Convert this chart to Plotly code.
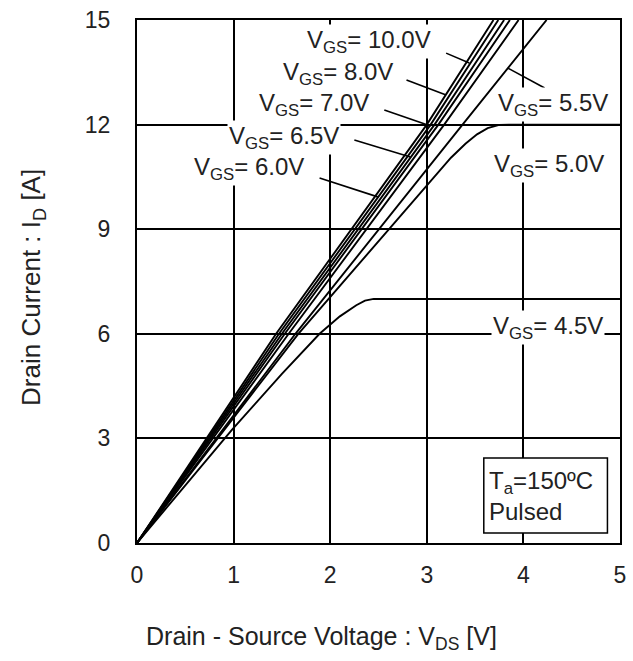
import plotly.graph_objects as go

# Output characteristics, Ta = 150 °C, pulsed
vgs_labels = ["10.0", "8.0", "7.0", "6.5", "6.0", "5.5", "5.0", "4.5"]

vds_10_0 = [0, 1.44, 3.00, 3.69]
id_10_0 = [0, 6, 12, 15]
vds_8_0 = [0, 1.47, 3.04, 3.74]
id_8_0 = [0, 6, 12, 15]
vds_7_0 = [0, 1.50, 3.08, 3.80]
id_7_0 = [0, 6, 12, 15]
vds_6_5 = [0, 1.53, 3.12, 3.86]
id_6_5 = [0, 6, 12, 15]
vds_6_0 = [0, 1.57, 3.18, 3.95]
id_6_0 = [0, 6, 12, 15]
vds_5_5 = [0, 1.64, 3.37, 4.24]
id_5_5 = [0, 6, 12, 15]
vds_5_0 = [0, 1.67, 2.69, 3.25, 3.40, 3.52, 3.63, 3.75, 3.85, 5.0]
id_5_0 = [0, 6.0, 9.26, 11.05, 11.45, 11.72, 11.9, 11.99, 12.0, 12.0]
vds_4_5 = [0, 0.98, 1.50, 1.89, 2.10, 2.27, 2.36, 2.45, 5.0]
id_4_5 = [0, 3.24, 4.85, 6.0, 6.5, 6.82, 6.95, 7.0, 7.0]

curves_vds = [vds_10_0, vds_8_0, vds_7_0, vds_6_5, vds_6_0, vds_5_5, vds_5_0, vds_4_5]
curves_id = [id_10_0, id_8_0, id_7_0, id_6_5, id_6_0, id_5_5, id_5_0, id_4_5]

# label centres (VDS, ID)
label_x = [2.40, 2.08, 1.83, 1.52, 1.16, 4.31, 4.27, 4.25]
label_y = [14.37, 13.48, 12.59, 11.64, 10.73, 12.59, 10.84, 6.17]

# leader lines: start (x0, y0) -> end (x1, y1); None where a label has no leader
leader_x0 = [3.20, 2.79, 2.56, 2.25, 1.89, 3.84, None, None]
leader_y0 = [14.05, 13.28, 12.42, 11.56, 10.47, 13.62, None, None]
leader_x1 = [3.44, 3.20, 3.04, 2.83, 2.50, 4.22, None, None]
leader_y1 = [13.77, 12.85, 11.96, 11.07, 9.92, 13.05, None, None]

x_ticks = [0, 1, 2, 3, 4, 5]
y_ticks = [0, 3, 6, 9, 12, 15]

FONT = "Liberation Sans, Arial, sans-serif"

fig = go.Figure()
for vx, iy in zip(curves_vds, curves_id):
    fig.add_trace(go.Scatter(x=vx, y=iy, mode="lines",
                             line=dict(color="black", width=1.9),
                             showlegend=False, hoverinfo="skip"))

shapes = []
for x0, y0, x1, y1 in zip(leader_x0, leader_y0, leader_x1, leader_y1):
    if x0 is None:
        continue
    shapes.append(dict(type="line", xref="x", yref="y", x0=x0, y0=y0, x1=x1, y1=y1,
                       line=dict(color="black", width=1.6), layer="above"))

# condition box
shapes.append(dict(type="rect", xref="x", yref="y", x0=3.59, y0=0.29, x1=4.87, y1=2.44,
                   line=dict(color="black", width=1.5), fillcolor="white", layer="above"))

annotations = []
for lab, lx, ly in zip(vgs_labels, label_x, label_y):
    annotations.append(dict(x=lx, y=ly, xref="x", yref="y",
                            text=f"V<sub>GS</sub>= {lab}V", showarrow=False,
                            font=dict(family=FONT, size=24, color="#222"),
                            bgcolor="white", borderpad=1,
                            xanchor="center", yanchor="middle"))

annotations.append(dict(x=3.62, y=1.36, xref="x", yref="y",
                        text="T<sub>a</sub>=150ºC<br>Pulsed", showarrow=False, align="left",
                        font=dict(family=FONT, size=24, color="#222"),
                        xanchor="left", yanchor="middle"))

annotations.append(dict(x=0.382, y=-0.182, xref="paper", yref="paper",
                        text="Drain - Source Voltage : V<sub>DS</sub> [V]", showarrow=False,
                        font=dict(family=FONT, size=25, color="#222"),
                        xanchor="center", yanchor="middle"))
annotations.append(dict(x=-0.215, y=0.488, xref="paper", yref="paper",
                        text="Drain Current : I<sub>D</sub> [A]", showarrow=False, textangle=-90,
                        font=dict(family=FONT, size=26, color="#222"),
                        xanchor="center", yanchor="middle"))

fig.update_layout(
    width=633, height=661,
    margin=dict(l=137, r=7, t=20, b=118),
    paper_bgcolor="white", plot_bgcolor="white",
    shapes=shapes, annotations=annotations,
    font=dict(family=FONT, color="#222"),
)
fig.update_xaxes(range=[0, 5], tickvals=x_ticks, ticktext=[str(v) for v in x_ticks],
                 showgrid=True, gridcolor="black", gridwidth=1.5,
                 showline=True, linecolor="black", linewidth=2, mirror=True,
                 zeroline=False, ticks="", tickfont=dict(size=23, family=FONT, color="#222"),
                 ticklabelstandoff=10)
fig.update_yaxes(range=[0, 15], tickvals=y_ticks, ticktext=[str(v) for v in y_ticks],
                 showgrid=True, gridcolor="black", gridwidth=1.5,
                 showline=True, linecolor="black", linewidth=2, mirror=True,
                 zeroline=False, ticks="", tickfont=dict(size=23, family=FONT, color="#222"),
                 ticklabelstandoff=20)

fig.write_html("out.html")
